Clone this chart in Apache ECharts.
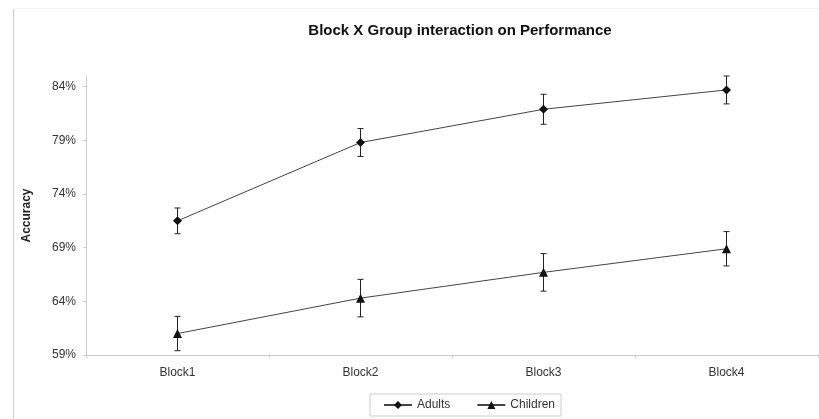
<!DOCTYPE html>
<html><head><meta charset="utf-8">
<script src="https://cdn.jsdelivr.net/npm/echarts@6/dist/echarts.min.js"></script>
<style>html,body{margin:0;padding:0;background:#fff}#c{width:819px;height:419px}</style>
</head><body><div id="c"></div>
<script>
const categories = ['Block1', 'Block2', 'Block3', 'Block4'];
const adultsMean = [71.5, 78.8, 81.9, 83.7];
const adultsErr = [1.2, 1.3, 1.4, 1.3];
const childrenMean = [61.0, 64.3, 66.7, 68.9];
const childrenErr = [1.6, 1.75, 1.75, 1.6];
const yTicks = [59, 64, 69, 74, 79, 84];

const chart = echarts.init(document.getElementById('c'));
const font = 'Liberation Sans, Arial, sans-serif';

function errSeries(name, means, errs) {
  return {
    type: 'custom', name: name + ' err', silent: true, z: 3,
    data: means.map((m, i) => [i, m - errs[i], m + errs[i]]),
    renderItem: function (params, api) {
      const lo = api.coord([api.value(0), api.value(1)]);
      const hi = api.coord([api.value(0), api.value(2)]);
      const w = 3;
      const st = { stroke: '#222', lineWidth: 1 };
      return { type: 'group', children: [
        { type: 'line', shape: { x1: lo[0], y1: lo[1], x2: hi[0], y2: hi[1] }, style: st },
        { type: 'line', shape: { x1: lo[0] - w, y1: lo[1], x2: lo[0] + w, y2: lo[1] }, style: st },
        { type: 'line', shape: { x1: hi[0] - w, y1: hi[1], x2: hi[0] + w, y2: hi[1] }, style: st }
      ]};
    }
  };
}

chart.setOption({
  animation: false,
  backgroundColor: '#fff',
  legend: {
    data: ['Adults', 'Children'],
    left: 370, top: 394,
    padding: [5, 6, 5, 13],
    itemWidth: 28, itemHeight: 10, itemGap: 26,
    borderColor: '#ccc', borderWidth: 1,
    textStyle: { fontFamily: font, fontSize: 12, color: '#333' }
  },
  grid: { left: 86, right: 1, top: 76, bottom: 64 },
  xAxis: {
    type: 'category', data: categories, boundaryGap: true,
    axisLine: { lineStyle: { color: '#ccc' } },
    axisTick: { show: true, length: 3, lineStyle: { color: '#ccc' } },
    axisLabel: { fontFamily: font, fontSize: 12, color: '#333', margin: 12 }
  },
  yAxis: {
    type: 'value', min: 59, max: 85,
    name: 'Accuracy', nameLocation: 'middle', nameGap: 53, nameRotate: 90,
    nameTextStyle: { fontFamily: font, fontSize: 12, fontWeight: 'bold', color: '#222' },
    splitLine: { show: false },
    axisLine: { show: true, lineStyle: { color: '#ccc' } },
    axisTick: { show: true, length: 3, lineStyle: { color: '#ccc' }, customValues: yTicks },
    axisLabel: { fontFamily: font, fontSize: 12, color: '#333', margin: 10, customValues: yTicks,
      formatter: v => v + '%' }
  },
  graphic: [
    { type: 'line', shape: { x1: 13.5, y1: 8, x2: 13.5, y2: 419 }, style: { stroke: '#ccc', lineWidth: 1 } },
    { type: 'line', shape: { x1: 13, y1: 8.5, x2: 819, y2: 8.5 }, style: { stroke: '#f2f2f2', lineWidth: 1 } },
    { type: 'text', x: 460, y: 31, style: {
        text: 'Block X Group interaction on Performance', align: 'center', verticalAlign: 'middle',
        font: 'bold 15px Liberation Sans, Arial, sans-serif', fill: '#111' } }
  ],
  series: [
    { name: 'Adults', type: 'line', data: adultsMean, symbol: 'diamond', symbolSize: 9,
      lineStyle: { color: '#444', width: 1 }, itemStyle: { color: '#111' }, z: 4 },
    { name: 'Children', type: 'line', data: childrenMean, symbol: 'triangle', symbolSize: 9,
      lineStyle: { color: '#444', width: 1 }, itemStyle: { color: '#111' }, z: 4 },
    errSeries('Adults', adultsMean, adultsErr),
    errSeries('Children', childrenMean, childrenErr)
  ]
});
</script></body></html>
